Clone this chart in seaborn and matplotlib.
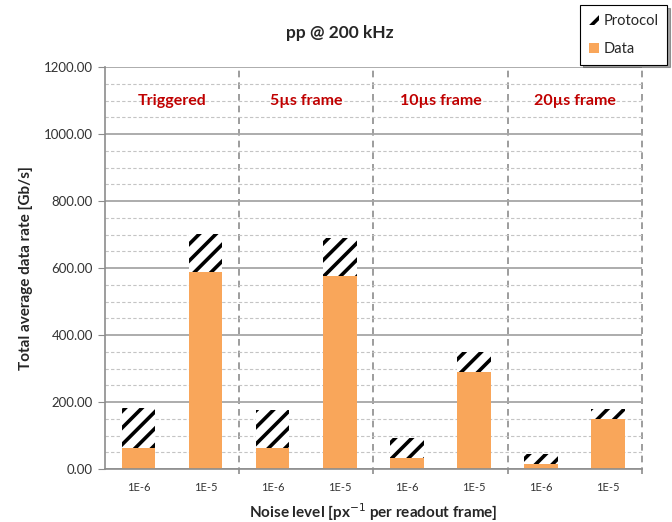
import matplotlib
matplotlib.use("Agg")
import matplotlib.pyplot as plt
import seaborn as sns
import pandas as pd
from matplotlib.patches import Patch
from matplotlib.ticker import MultipleLocator, FormatStrFormatter

# values (Gb/s)
groups = ["Triggered", "5\u00b5s frame", "10\u00b5s frame", "20\u00b5s frame"]
noise = ["1E-6", "1E-5"]
data_rate = [64, 588, 62, 577, 33, 290, 16, 149]
total_rate = [181, 702, 177, 689, 93, 349, 45, 178]

keys = [f"{g} {n}" for g in groups for n in noise]
df = pd.DataFrame({"key": keys, "data": data_rate, "total": total_rate})

sns.set_style("white")
plt.rcParams["font.family"] = ["Lato", "DejaVu Sans"]
plt.rcParams["hatch.linewidth"] = 2.6

fig = plt.figure(figsize=(6.72, 5.22), dpi=100)
ax = fig.add_axes([0.156, 0.1015, 0.799, 0.770])

# grid first
ax.set_ylim(0, 1200)
ax.yaxis.set_major_locator(MultipleLocator(200))
ax.yaxis.set_minor_locator(MultipleLocator(50))
ax.yaxis.set_major_formatter(FormatStrFormatter("%.2f"))
ax.grid(which="minor", axis="y", color="#c4c4c4", lw=0.8, ls=(0, (3, 2)))
ax.grid(which="major", axis="y", color="#a6a6a6", lw=1.3, ls="-")
ax.set_axisbelow(True)

sns.barplot(data=df, x="key", y="total", order=keys, color="white",
            hatch="//", edgecolor="black", linewidth=0, width=0.5,
            saturation=1, ax=ax)
sns.barplot(data=df, x="key", y="data", order=keys, color="#f9a65a",
            linewidth=0, width=0.5, saturation=1, ax=ax)

ax.set_xlim(-0.5, len(keys) - 0.5)

# group separators
for i in range(1, len(groups) + 1):
    ax.axvline(2 * i - 0.5, ymin=-0.012, ymax=1, color="#8c8c8c", lw=1.2,
               ls=(0, (4, 3)), clip_on=False, zorder=0.5)

for i, g in enumerate(groups):
    ax.text(2 * i + 0.5, 1100, g, ha="center", va="center", color="#c00000",
            fontsize=11.5, fontweight="bold")

ax.set_xticks(range(len(keys)))
ax.set_xticklabels(noise * len(groups), fontsize=8, color="#333333")
ax.tick_params(axis="x", length=0, pad=9)
ax.tick_params(axis="y", which="major", length=5, color="#8c8c8c",
               labelsize=9.5, colors="#333333", left=True)
ax.tick_params(axis="y", which="minor", length=0)
ax.tick_params(axis="y", labelcolor="#333333")

for s in ["top", "right"]:
    ax.spines[s].set_visible(False)
for s in ["left", "bottom"]:
    ax.spines[s].set_color("#8c8c8c")
    ax.spines[s].set_linewidth(1.2)

ax.set_xlabel("Noise level [px$^{-1}$ per readout frame]", fontsize=11,
              fontweight="bold", labelpad=6)
ax.set_ylabel("Total average data rate [Gb/s]", fontsize=11,
              fontweight="bold", labelpad=8)
fig.text(0.505, 0.936, "pp @ 200 kHz", ha="center", va="center",
         fontsize=12.5, fontweight="bold")

handles = [
    Patch(facecolor="white", edgecolor="black", hatch="//", linewidth=0,
          label="Protocol"),
    Patch(facecolor="#f9a65a", edgecolor="none", label="Data"),
]
leg = fig.legend(handles=handles, loc="upper right",
                 bbox_to_anchor=(0.993, 0.99), frameon=True, fancybox=False,
                 shadow=True, fontsize=10.5, handlelength=0.7, handleheight=0.7,
                 handletextpad=0.3, labelspacing=0.95, borderpad=0.6,
                 borderaxespad=0)
leg.get_frame().set_edgecolor("black")
leg.get_frame().set_linewidth(0.8)

fig.savefig("out.png", dpi=100)
